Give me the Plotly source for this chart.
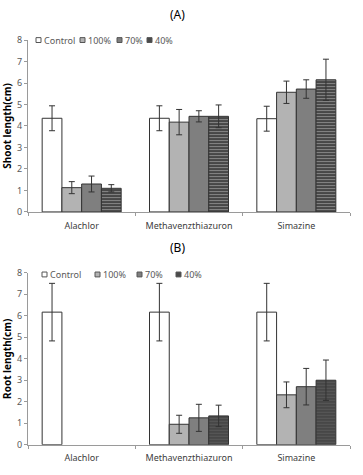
import plotly.graph_objects as go

herbicides = ["Alachlor", "Methavenzthiazuron", "Simazine"]
treatments = ["Control", "100%", "70%", "40%"]

shoot_mean = {
    "Control": [4.36, 4.36, 4.34],
    "100%": [1.13, 4.18, 5.57],
    "70%": [1.30, 4.45, 5.72],
    "40%": [1.10, 4.45, 6.15],
}
shoot_err = {
    "Control": [0.58, 0.58, 0.58],
    "100%": [0.28, 0.59, 0.52],
    "70%": [0.37, 0.26, 0.43],
    "40%": [0.17, 0.53, 0.96],
}
root_mean = {
    "Control": [6.17, 6.17, 6.17],
    "100%": [None, 0.95, 2.32],
    "70%": [None, 1.25, 2.70],
    "40%": [None, 1.34, 3.00],
}
root_err = {
    "Control": [1.34, 1.34, 1.34],
    "100%": [None, 0.42, 0.60],
    "70%": [None, 0.63, 0.85],
    "40%": [None, 0.50, 0.94],
}
y_ticks = [0, 1, 2, 3, 4, 5, 6, 7, 8]

fills = {"Control": "#ffffff", "100%": "#b3b3b3", "70%": "#7f7f7f", "40%": "#4a4a4a"}
W, H = 363, 475
FONT = "Noto Sans"

fig = go.Figure()

for ax_i, (means, errs) in enumerate([(shoot_mean, shoot_err), (root_mean, root_err)]):
    xa = "x" if ax_i == 0 else "x2"
    ya = "y" if ax_i == 0 else "y2"
    for t in treatments:
        marker = dict(color=fills[t], line=dict(color="#333333", width=1))
        if t == "40%":
            marker["pattern"] = dict(shape="-", bgcolor="#474747",
                                     fgcolor="#8c8c8c" if ax_i == 0 else "#5a5a5a",
                                     size=3, solidity=0.3, fillmode="replace")
        fig.add_trace(go.Bar(
            x=herbicides, y=means[t], name=t, xaxis=xa, yaxis=ya,
            marker=marker, showlegend=False,
            error_y=dict(type="data", array=errs[t], visible=True,
                         color="#333333", thickness=1, width=3),
        ))

def px2py(p):
    return 1 - p / H

x_dom = [28 / W, 350 / W]
ax_common = dict(showgrid=False, zeroline=False, showline=True, linecolor="#9a9a9a",
                 linewidth=1, ticks="outside", tickcolor="#9a9a9a", ticklen=3)

fig.update_layout(
    width=W, height=H,
    margin=dict(l=0, r=0, t=0, b=0),
    paper_bgcolor="white", plot_bgcolor="white",
    barmode="group", bargap=0.264, bargroupgap=0,
    font=dict(family=FONT, size=9, color="#404040"),
    xaxis=dict(domain=x_dom, anchor="y", tickson="boundaries", **ax_common,
               ticklabelstandoff=5, tickfont=dict(size=9, color="#404040")),
    yaxis=dict(domain=[px2py(210.7), px2py(34)], anchor="x", range=[0, 8],
               tickvals=y_ticks, **ax_common, tickfont=dict(size=9, color="#595959"),
               title=dict(text="<b>Shoot length(cm)</b>", standoff=6,
                          font=dict(size=10, color="#000000"))),
    xaxis2=dict(domain=x_dom, anchor="y2", tickson="boundaries", **ax_common,
                ticklabelstandoff=5, tickfont=dict(size=9, color="#404040")),
    yaxis2=dict(domain=[px2py(450), px2py(273.3)], anchor="x2", range=[0, 8],
                tickvals=y_ticks, **ax_common, tickfont=dict(size=9, color="#595959"),
                title=dict(text="<b>Root length(cm)</b>", standoff=6,
                           font=dict(size=10, color="#000000"))),
)

annotations = [
    dict(text="(A)", x=177 / W, y=px2py(8), xref="paper", yref="paper",
         showarrow=False, font=dict(size=12, color="#000000"), xanchor="center", yanchor="middle"),
    dict(text="(B)", x=177 / W, y=px2py(247), xref="paper", yref="paper",
         showarrow=False, font=dict(size=12, color="#000000"), xanchor="center", yanchor="middle"),
]
shapes = []
# manual compact legends (square + label) matching the reference layout
legend_pos = [
    (34, [36, 80, 117, 147]),
    (275, [42, 95, 137, 176]),
]
for ly, xs in legend_pos:
    for t, lx in zip(treatments, xs):
        shapes.append(dict(type="rect", xref="paper", yref="paper",
                           x0=lx / W, x1=(lx + 5) / W, y0=px2py(ly + 2.5), y1=px2py(ly - 2.5),
                           fillcolor=fills[t], line=dict(color="#555555", width=1)))
        annotations.append(dict(text=t, x=(lx + 6) / W, y=px2py(ly), xref="paper", yref="paper",
                                showarrow=False, xanchor="left", yanchor="middle",
                                font=dict(size=9, color="#595959")))
fig.update_layout(annotations=annotations, shapes=shapes)

fig.write_html("out.html")
